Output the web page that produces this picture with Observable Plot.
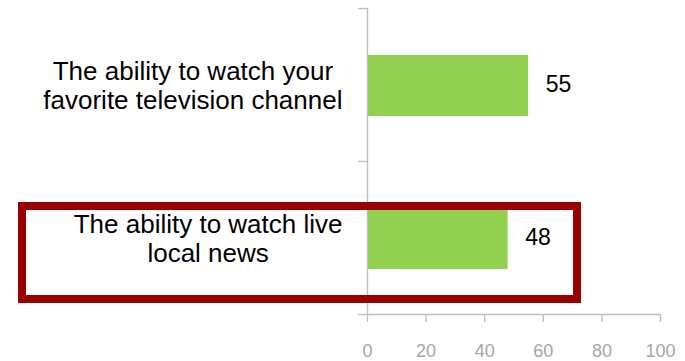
<!DOCTYPE html>
<html>
<head>
<meta charset="utf-8">
<script src="https://cdn.jsdelivr.net/npm/d3@7"></script>
<script src="https://cdn.jsdelivr.net/npm/@observablehq/plot@0.6"></script>
<style>
  html, body { margin: 0; padding: 0; background: #fff; }
  #chart { width: 685px; height: 361px; }
</style>
</head>
<body>
<div id="chart"></div>
<script>
// Data
const categories = [
  "The ability to watch your\nfavorite television channel",
  "The ability to watch live\nlocal news"
];
const values = [55, 48];
const xTicks = [0, 20, 40, 60, 80, 100];
const highlightedCategories = ["The ability to watch live\nlocal news"];

const rows = categories.map((label, i) => ({label, i, mid: i + 0.5, value: values[i]}));
const highlightRows = rows.filter(d => highlightedCategories.includes(d.label));

const axisColor = "#bfbfbf";

const chart = Plot.plot({
  width: 685,
  height: 361,
  marginLeft: 367,
  marginRight: 25,
  marginTop: 8,
  marginBottom: 47,
  style: {fontFamily: "'Liberation Sans', Arial, sans-serif", background: "#fff", color: "#000"},
  x: {type: "linear", domain: [0, 100]},
  y: {type: "linear", domain: [0, categories.length], reverse: true},
  marks: [
    Plot.rectX(rows, {x: "value", y1: "i", y2: d => d.i + 1, insetTop: 47, insetBottom: 45, fill: "#92d050"}),
    Plot.ruleX([0], {stroke: axisColor, strokeWidth: 1.4}),
    Plot.ruleY([categories.length], {stroke: axisColor, strokeWidth: 1.4}),
    Plot.axisY({ticks: d3.range(categories.length + 1), tickSize: 9, tickFormat: () => "", stroke: axisColor, strokeWidth: 1.4, label: null}),
    Plot.axisX({ticks: xTicks, tickSize: 8, tickPadding: 22, stroke: axisColor, strokeWidth: 1.4, fill: "#a6a6a6", fontSize: 18, label: null}),
    Plot.text(rows, {x: "value", y: "mid", text: d => String(d.value), textAnchor: "start", dx: 17, fontSize: 23, fill: "#000"}),
    Plot.text(rows, {y: "mid", text: "label", frameAnchor: "left", dx: -25, textAnchor: "end", lineAnchor: "middle", lineHeight: 1.13, fontSize: 26, fill: "#000"}),
    Plot.rect(highlightRows, {y1: "i", y2: d => d.i + 1, insetTop: 45, insetBottom: 15, insetLeft: -345, insetRight: 83, fill: "none", stroke: "#990000", strokeWidth: 8})
  ]
});
document.getElementById("chart").appendChild(chart);

// Center the lines of each multi-line category label within its right-aligned block
chart.querySelectorAll("text").forEach(t => {
  const spans = t.querySelectorAll("tspan");
  if (spans.length < 2) return;
  let maxW = 0;
  spans.forEach(s => { maxW = Math.max(maxW, s.getComputedTextLength()); });
  t.setAttribute("text-anchor", "middle");
  t.style.textAnchor = "middle";
  spans.forEach(s => s.setAttribute("x", -maxW / 2));
});
</script>
</body>
</html>
